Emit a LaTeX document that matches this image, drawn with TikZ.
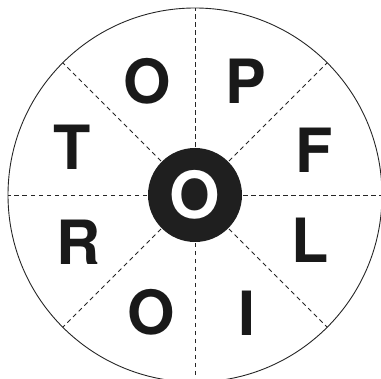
\documentclass[tikz,border=0pt]{standalone}
\usepackage{fontspec}
\setmainfont{TeX Gyre Heros}
\usetikzlibrary{calc}
\begin{document}
\begin{tikzpicture}[x=1pt,y=-1pt,
  letter/.style={inner sep=0pt, font=\fontsize{61}{61}\selectfont\bfseries, text=black!90},
  spoke/.style={dashed, dash pattern=on 4.5pt off 3.5pt, line width=0.8pt, black!85},
  rim/.style={line width=0.9pt, black!85}]
\useasboundingbox (0,0) rectangle (381,379);
\clip (0,0) rectangle (381,379);
\coordinate (c) at (195,195);
\draw[rim] (c) circle (187);
\foreach \a in {0,45,...,315}{
  \draw[spoke] (c) -- ($(c)+(\a:187)$);
}
\fill[black!88] (c) circle (47);
\node[letter, text=white, font=\fontsize{65}{65}\selectfont\bfseries] (center) at (195,195) {O};
\node[letter] (o1) at (147,81) {O};
\node[letter] (p) at (246,81) {P};
\node[letter] (t) at (72,147) {T};
\node[letter] (f) at (314,150) {F};
\node[letter] (r) at (79,242) {R};
\node[letter] (l) at (310,240) {L};
\node[letter] (o2) at (151,312) {O};
\node[letter] (i) at (247,313) {I};
\end{tikzpicture}
\end{document}
